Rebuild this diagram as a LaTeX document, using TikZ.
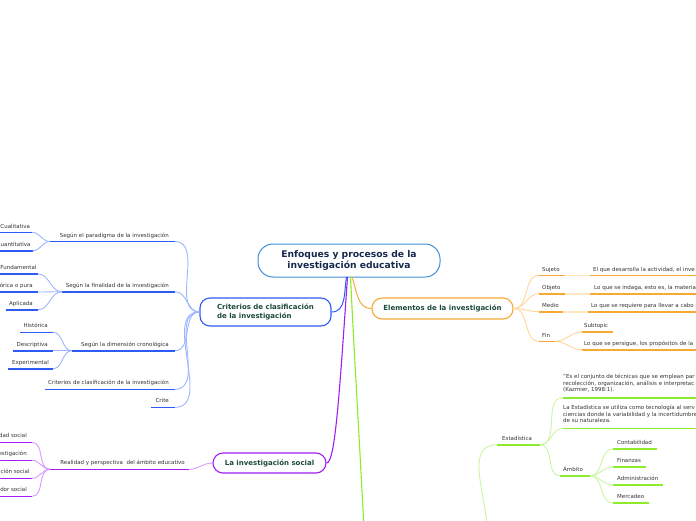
\documentclass[tikz,border=0pt]{standalone}
\usepackage{fontspec}
\setmainfont{DejaVu Sans}
\definecolor{cblue}{HTML}{2E5BF5}
\definecolor{cbluel}{HTML}{9DB5FF}
\definecolor{ccen}{HTML}{3F8FD8}
\definecolor{ctitle}{HTML}{16294D}
\definecolor{ctopic}{HTML}{1C4A3A}
\definecolor{ctxt}{HTML}{333333}
\definecolor{corange}{HTML}{F7A935}
\definecolor{corangel}{HTML}{FFD698}
\definecolor{cpurple}{HTML}{A21CF5}
\definecolor{cpurplel}{HTML}{D699FF}
\definecolor{cgreen}{HTML}{8CEB2A}
\definecolor{cgreenl}{HTML}{CBF5A0}
\tikzset{
  lt/.style={font=\fontsize{5.5}{6.5}\selectfont, text=ctxt, inner sep=0pt},
  ul/.style={line width=1.6pt},
  cn/.style={line width=0.9pt},
  topic/.style={draw, line width=1.1pt, rounded corners=10pt, fill=white,
    font=\fontsize{7}{8.2}\selectfont\bfseries, text=ctopic, inner sep=0pt},
  central/.style={draw=ccen, line width=1pt, rounded corners=15pt, fill=white,
    font=\fontsize{9.2}{11}\selectfont\bfseries, text=ctitle, align=center,
    minimum width=182pt, minimum height=33pt, inner sep=0pt},
}
\begin{document}
\begin{tikzpicture}[x=1pt,y=-1pt]
\useasboundingbox (0,0) rectangle (696,520);
\clip (0,0) rectangle (696,520);

% ---------- main nodes
\node[central] (c) at (349,260.5) {Enfoques y procesos de la\\investigación educativa};
\node[topic, draw=cblue, minimum width=131pt, minimum height=28pt, align=left] (cr) at (265.5,312) {Criterios de clasificación\\de la investigación};
\node[topic, draw=corange, minimum width=141pt, minimum height=21pt] (el) at (442.5,308.5) {Elementos de la investigación};
\node[topic, draw=cpurple, minimum width=113pt, minimum height=20pt] (is) at (269.5,463) {La investigación social};

\coordinate (cb) at (346.5,277);
\coordinate (co) at (352,277);
\coordinate (cp) at (347.5,277);
\coordinate (cg) at (350.5,277);
\coordinate (gend) at (364,530);
\draw[cblue, line width=1pt] (cb) to[out=-100,in=0] (cr.east);
\draw[corange, line width=1pt] (co) to[out=-70,in=180] (el.west);
\draw[cpurple, line width=1.1pt] (cp) .. controls (339,400) and (335,463) .. (is.east);
\draw[cgreen, line width=1.1pt] (cg) .. controls (354,350) and (360,450) .. (gend);

% ---------- Criterios branch
\coordinate (p1a) at (50,241.5); \coordinate (p1b) at (175,241.5);
\coordinate (p2a) at (62,291.7); \coordinate (p2b) at (175,291.7);
\coordinate (p3a) at (72,350.7); \coordinate (p3b) at (175,350.7);
\coordinate (p4a) at (45,389.3); \coordinate (p4b) at (175,389.3);
\coordinate (p5a) at (151,407.3); \coordinate (p5b) at (175,407.3);
\foreach \i in {1,...,5}{
  \draw[ul,cblue] (p\i a) -- (p\i b);
  \draw[cn,cbluel] (p\i b) to[out=0,in=180] (cr.west);
}
\node[lt,anchor=base east] (p1) at (169,237) {Según el paradigma de la investigación};
\node[lt,anchor=base east] (p2) at (169,287.2) {Según la finalidad de la investigación};
\node[lt,anchor=base east] (p3) at (169,346.2) {Según la dimensión cronológica};
\node[lt,anchor=base east] (p4) at (169,384.8) {Criterios de clasificación de la investigación};
\node[lt,anchor=base east] (p5) at (169,402.8) {Crite};

% paradigma children
\coordinate (q1a) at (-5,232.3); \coordinate (q1b) at (32,232.3);
\coordinate (q2a) at (-5,250.7); \coordinate (q2b) at (33,250.7);
\draw[ul,cblue] (q1a) -- (q1b); \draw[ul,cblue] (q2a) -- (q2b);
\draw[cn,cbluel] (q1b) to[out=0,in=180] (p1a);
\draw[cn,cbluel] (q2b) to[out=0,in=180] (p1a);
\node[lt,anchor=base west] (q1) at (0.3,228) {Cualitativa};
\node[lt,anchor=base west] (q2) at (0.5,246.2) {uantitativa};

% finalidad children
\coordinate (r1a) at (-5,274); \coordinate (r1b) at (38,274);
\coordinate (r2a) at (-5,292); \coordinate (r2b) at (38,292);
\coordinate (r3a) at (6,309.7); \coordinate (r3b) at (38,309.7);
\foreach \i in {1,2,3}{
  \draw[ul,cblue] (r\i a) -- (r\i b);
  \draw[cn,cbluel] (r\i b) to[out=0,in=180] (p2a);
}
\node[lt,anchor=base west] (r1) at (0.3,269.5) {Fundamental};
\node[lt,anchor=base east] (r2) at (33,287.5) {órica o pura};
\node[lt,anchor=base east] (r3) at (33,305.2) {Aplicada};

% cronologica children
\coordinate (s1a) at (20,332.3); \coordinate (s1b) at (53,332.3);
\coordinate (s2a) at (13,350.7); \coordinate (s2b) at (53,350.7);
\coordinate (s3a) at (8,368.7); \coordinate (s3b) at (53,368.7);
\foreach \i in {1,2,3}{
  \draw[ul,cblue] (s\i a) -- (s\i b);
  \draw[cn,cbluel] (s\i b) to[out=0,in=180] (p3a);
}
\node[lt,anchor=base east] (s1) at (48,327.8) {Histórica};
\node[lt,anchor=base east] (s2) at (48,346.2) {Descriptiva};
\node[lt,anchor=base east] (s3) at (49,364.2) {Experimental};

% ---------- Investigacion social branch
\coordinate (ra) at (50,469.3); \coordinate (rb) at (189,469.3);
\draw[ul,cpurple] (ra) -- (rb);
\draw[cn,cpurplel] (rb) to[out=0,in=180] (is.west);
\node[lt,anchor=base east] (rr) at (185,464.8) {Realidad y perspectiva~ del ámbito educativo};
\coordinate (t1a) at (-5,442.3); \coordinate (t1b) at (32,442.3);
\coordinate (t2a) at (-5,460.3); \coordinate (t2b) at (32,460.3);
\coordinate (t3a) at (-5,478.3); \coordinate (t3b) at (32,478.3);
\coordinate (t4a) at (-5,496.3); \coordinate (t4b) at (32,496.3);
\foreach \i in {1,...,4}{
  \draw[ul,cpurple] (t\i a) -- (t\i b);
  \draw[cn,cpurplel] (t\i b) to[out=0,in=180] (ra);
}
\node[lt,anchor=base east] (t1) at (27,437.8) {dad social};
\node[lt,anchor=base east] (t2) at (27,455.8) {estigación};
\node[lt,anchor=base west] (t3) at (0.5,473.8) {ción social};
\node[lt,anchor=base east] (t4) at (27,491.8) {dor social};

% ---------- Elementos branch
\coordinate (e1a) at (539,275.5); \coordinate (e1b) at (565,275.5);
\coordinate (e2a) at (539,293.7); \coordinate (e2b) at (565,293.7);
\coordinate (e3a) at (539,311.7); \coordinate (e3b) at (563,311.7);
\coordinate (e4a) at (539,341.3); \coordinate (e4b) at (555,341.3);
\foreach \i in {1,...,4}{
  \draw[ul,corange] (e\i a) -- (e\i b);
  \draw[cn,corangel] (el.east) to[out=0,in=180] (e\i a);
}
\node[lt,anchor=base west] (e1) at (542,271.3) {Sujeto};
\node[lt,anchor=base west] (e2) at (542,289.4) {Objeto};
\node[lt,anchor=base west] (e3) at (542,307.4) {Medio};
\node[lt,anchor=base west] (e4) at (542,337) {Fin};

\coordinate (f1a) at (590,275.5); \coordinate (f1b) at (700,275.5);
\coordinate (f2a) at (590,293.7); \coordinate (f2b) at (700,293.7);
\coordinate (f3a) at (588,311.7); \coordinate (f3b) at (700,311.7);
\foreach \i in {1,2,3}{
  \draw[ul,corange] (f\i a) -- (f\i b);
  \draw[ul,corangel!60] (e\i b) -- (f\i a);
}
\node[lt,anchor=base west] (f1) at (593,271.3) {El que desarrolla la actividad, el inve};
\node[lt,anchor=base west] (f2) at (594,289.4) {Lo que se indaga, esto es, la materia};
\node[lt,anchor=base west] (f3) at (591,307.4) {Lo que se requiere para llevar a cabo};

\coordinate (g1a) at (582,332); \coordinate (g1b) at (613,332);
\coordinate (g2a) at (582,349.8); \coordinate (g2b) at (700,349.8);
\draw[ul,corange] (g1a) -- (g1b);
\draw[ul,corange] (g2a) -- (g2b);
\draw[cn,corangel] (e4b) to[out=0,in=180] (g1a);
\draw[cn,corangel] (e4b) to[out=0,in=180] (g2a);
\node[lt,anchor=base west] (g1) at (584,327.7) {Subtopic};
\node[lt,anchor=base west] (g2) at (584,345.5) {Lo que se persigue, los propósitos de la};

% ---------- Green branch
\coordinate (hin) at (487,530);
\coordinate (ha) at (497,444.7); \coordinate (hb) at (540,444.7);
\draw[cn,cgreenl] (hin) to[out=90,in=180] (ha);
\draw[ul,cgreen] (ha) -- (hb);
\node[lt,anchor=base west] (h) at (502,440.6) {Estadística};

\coordinate (k1a) at (563,397.7); \coordinate (k1b) at (700,397.7);
\coordinate (k2a) at (563,428.3); \coordinate (k2b) at (700,428.3);
\coordinate (k3a) at (560,475.7); \coordinate (k3b) at (590,475.7);
\foreach \i in {1,2,3}{
  \draw[ul,cgreen] (k\i a) -- (k\i b);
  \draw[cn,cgreenl] (hb) to[out=0,in=180] (k\i a);
}
\node[lt,anchor=north west,align=left] (k1) at (563,374.2) {\char34Es el conjunto de técnicas que se emplean par\\recolección, organización, análisis e interpretac\\(Kazmier, 1998:1).};
\node[lt,anchor=north west,align=left] (k2) at (563,405.2) {La Estadística se utiliza como tecnología al serv\\ciencias donde la variabilidad y la incertidumbre\\de su naturaleza.};
\node[lt,anchor=base west] (k3) at (563,471.5) {Ámbito};

\coordinate (m1a) at (613,449); \coordinate (m1b) at (657,449);
\coordinate (m2a) at (613,467); \coordinate (m2b) at (646,467);
\coordinate (m3a) at (613,485); \coordinate (m3b) at (663,485);
\coordinate (m4a) at (613,503); \coordinate (m4b) at (649,503);
\foreach \i in {1,...,4}{
  \draw[ul,cgreen] (m\i a) -- (m\i b);
  \draw[cn,cgreenl] (k3b) to[out=0,in=180] (m\i a);
}
\node[lt,anchor=base west] (m1) at (617,444.7) {Contabilidad};
\node[lt,anchor=base west] (m2) at (617,462.7) {Finanzas};
\node[lt,anchor=base west] (m3) at (617,480.7) {Administración};
\node[lt,anchor=base west] (m4) at (617,498.7) {Mercadeo};
\end{tikzpicture}
\end{document}
